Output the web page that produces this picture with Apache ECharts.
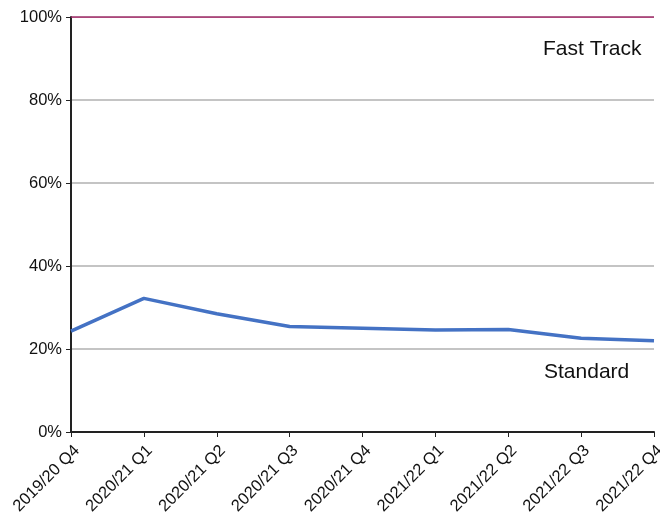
<!DOCTYPE html>
<html><head><meta charset="utf-8">
<script src="https://cdn.jsdelivr.net/npm/echarts@6/dist/echarts.min.js"></script>
<style>html,body{margin:0;padding:0;background:#fff}#c{width:660px;height:516px}</style>
</head><body><div id="c"></div>
<script>
const categories = ['2019/20 Q4','2020/21 Q1','2020/21 Q2','2020/21 Q3','2020/21 Q4','2021/22 Q1','2021/22 Q2','2021/22 Q3','2021/22 Q4'];
const standard = [24.3, 32.2, 28.5, 25.4, 25.0, 24.6, 24.7, 22.6, 22.0];
const fastTrack = [100, 100, 100, 100, 100, 100, 100, 100, 100];
const yTicks = [0, 20, 40, 60, 80, 100];

const chart = echarts.init(document.getElementById('c'));
const font = 'Liberation Sans, Arial, sans-serif';
chart.setOption({
  animation: false,
  grid: {left: 71, right: 6, top: 17, bottom: 84, containLabel: false, outerBoundsMode: 'none'},
  xAxis: {
    type: 'category', data: categories, boundaryGap: false,
    axisLine: {lineStyle: {color: '#222', width: 2}},
    axisTick: {show: true, alignWithLabel: true, length: 5, lineStyle: {color: '#222'}},
    axisLabel: {rotate: 45, color: '#111', fontSize: 16.5, fontFamily: font, margin: 10,
                verticalAlign: 'top', interval: 0, hideOverlap: false},
    splitLine: {show: false}
  },
  yAxis: {
    type: 'value', min: yTicks[0], max: yTicks[yTicks.length-1], interval: 20,
    axisLine: {show: true, lineStyle: {color: '#222', width: 2}},
    axisTick: {show: true, length: 5, lineStyle: {color: '#222'}},
    axisLabel: {formatter: '{value}%', color: '#111', fontSize: 16.5, fontFamily: font, margin: 9},
    splitLine: {show: true, lineStyle: {color: '#b0b0b0', width: 1.5}}
  },
  series: [
    {name: 'Fast Track', type: 'line', data: fastTrack, symbol: 'none', z: 3,
     lineStyle: {color: '#A51C63', width: 1.5}},
    {name: 'Standard', type: 'line', data: standard, symbol: 'none', z: 4,
     lineStyle: {color: '#4472C4', width: 3.5}}
  ],
  graphic: [
    {type: 'text', x: 543, y: 49, style: {text: 'Fast Track', font: '21px ' + font, fill: '#111', verticalAlign: 'middle'}},
    {type: 'text', x: 544, y: 372, style: {text: 'Standard', font: '21px ' + font, fill: '#111', verticalAlign: 'middle'}}
  ]
});
</script></body></html>
